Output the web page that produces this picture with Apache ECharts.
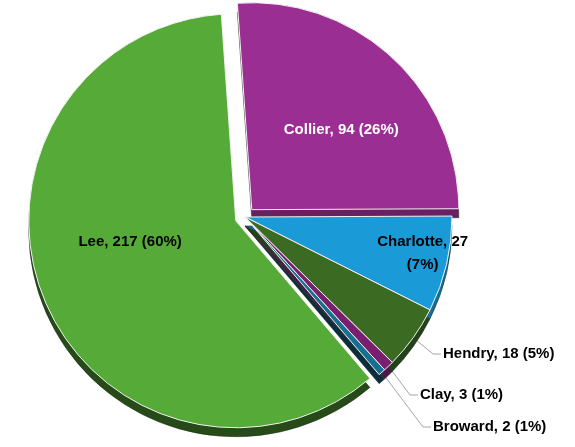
<!DOCTYPE html>
<html><head><meta charset="utf-8">
<script src="https://cdn.jsdelivr.net/npm/echarts@6/dist/echarts.min.js"></script>
<style>html,body{margin:0;padding:0;background:#fff}#c{width:575px;height:447px}</style>
</head><body><div id="c"></div>
<script>
// ---- data ----
const categories = ['Collier', 'Charlotte', 'Hendry', 'Clay', 'Broward', 'Lee'];
const values = [94, 27, 18, 3, 2, 217];
const exploded = ['Collier', 'Lee'];
const insideLabels = ['Collier', 'Charlotte', 'Lee'];
const wrappedLabels = ['Charlotte'];

// ---- styles ----
const topColors = ['#9b2e93', '#1a9bd7', '#3b6a22', '#7a1f6f', '#16708f', '#55aa38'];
const sideColors = ['#6a1f63', '#136e99', '#24421a', '#4f1448', '#0c2d3b', '#264a18'];
const labelColors = { Collier: '#ffffff' };
const labelAdjust = {
  Lee: { dx: -7, dy: -19 },
  Collier: { dx: 17, dy: -2 },
  Charlotte: { dx: 74, dy: 12 },
  Hendry: { x: 443, y: 354 },
  Clay: { x: 420, y: 395 },
  Broward: { x: 433, y: 427 }
};
const R = 207, CX = 245, CY = 217, DEPTH = 9;
const FONT = '"Liberation Sans", Arial, sans-serif';

const chart = echarts.init(document.getElementById('c'), null, { renderer: 'canvas' });

function fmt(p) {
  const pct = Math.round(p.percent);
  if (wrappedLabels.includes(p.name)) return p.name + ', ' + p.value + '\n(' + pct + '%)';
  return p.name + ', ' + p.value + ' (' + pct + '%)';
}

const topData = categories.map((c, i) => ({
  name: c,
  value: values[i],
  selected: exploded.includes(c),
  itemStyle: { color: topColors[i] },
  label: {
    position: insideLabels.includes(c) ? 'inside' : 'outside',
    color: labelColors[c] || '#000000'
  },
  labelLine: { show: !insideLabels.includes(c) }
}));

const sideData = categories.map((c, i) => ({
  name: c,
  value: values[i],
  selected: exploded.includes(c),
  itemStyle: { color: sideColors[i] }
}));

chart.setOption({
  animation: false,
  backgroundColor: '#ffffff',
  series: [
    {
      type: 'pie',
      silent: true,
      center: [CX, CY + DEPTH],
      radius: R,
      startAngle: 94,
      selectedMode: 'multiple',
      selectedOffset: 10,
      label: { show: false },
      labelLine: { show: false },
      itemStyle: { borderColor: '#1b2a14', borderWidth: 0.5 },
      emphasis: { disabled: true },
      data: sideData
    },
    {
      type: 'pie',
      silent: true,
      center: [CX, CY],
      radius: R,
      startAngle: 94,
      selectedMode: 'multiple',
      selectedOffset: 10,
      itemStyle: { borderColor: '#f2f2f2', borderWidth: 1 },
      emphasis: { disabled: true },
      label: {
        show: true,
        formatter: fmt,
        fontFamily: FONT,
        fontWeight: 'bold',
        fontSize: 15,
        lineHeight: 23,
        align: 'center',
        overflow: 'none'
      },
      labelLine: {
        show: true,
        lineStyle: { color: '#a6a6a6', width: 1 }
      },
      labelLayout: function (p) {
        const name = categories[p.dataIndex];
        const a = labelAdjust[name];
        if (a.x !== undefined) {
          const pts = p.labelLinePoints;
          const start = pts ? pts[0] : [a.x - 20, a.y];
          return {
            x: a.x, y: a.y, align: 'left', verticalAlign: 'middle',
            width: 140,
            labelLinePoints: [start, [a.x - 10, a.y], [a.x - 2, a.y]]
          };
        }
        return { dx: a.dx, dy: a.dy };
      },
      data: topData
    }
  ]
});
</script></body></html>
